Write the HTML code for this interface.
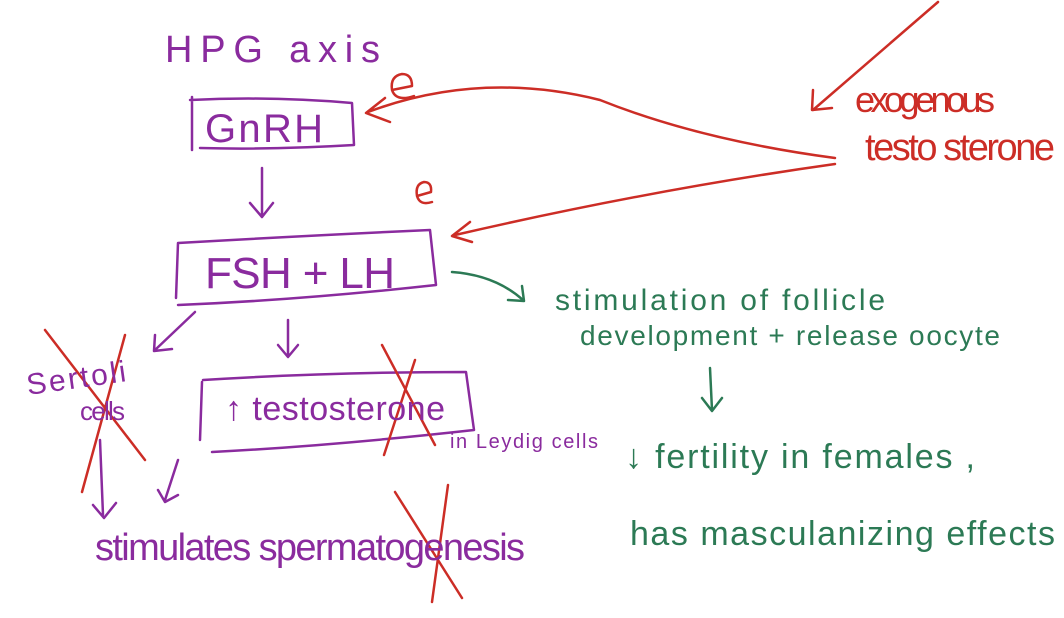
<!DOCTYPE html>
<html><head><meta charset="utf-8"><style>
html,body{margin:0;padding:0;background:#fff;}
svg{display:block}
text{font-family:"Liberation Sans",sans-serif;}
.p{fill:#8a2b9e}.r{fill:#cc2d26}.g{fill:#2c7a55}
</style></head><body>
<svg width="1064" height="618" viewBox="0 0 1064 618" xmlns="http://www.w3.org/2000/svg">
<g fill="none" stroke-linecap="round" stroke-linejoin="round" stroke-width="2.5">
<g stroke="#8a2b9e">
<path d="M192 97 L192 150 M190 100 Q270 96 352 103 L354 145 Q270 150 200 148"/>
<path d="M262 168 L262 215 M250 203 L262 217 L273 203"/>
<path d="M178 243 L176 298 M178 243 Q300 236 430 230 L436 285 Q300 300 178 305"/>
<path d="M195 312 L155 350 M155 335 L154 351 L172 349"/>
<path d="M288 320 L288 355 M278 345 L288 357 L298 345"/>
<path d="M202 382 L200 440 M203 380 Q330 372 466 372 L474 430 Q330 446 212 452"/>
<path d="M100 440 L103 515 M93 505 L104 518 L116 503"/>
<path d="M178 460 L165 500 M158 490 L165 502 L178 495"/>
</g>
<g stroke="#cc2d26">
<path d="M835 158 Q700 140 600 100 Q480 70 368 112 M385 98 L366 113 L390 122"/>
<path d="M835 164 Q650 190 455 235 M470 222 L452 236 L472 242"/>
<path d="M938 2 L813 110 M813 90 L812 110 L832 108"/>
<path d="M392 90 L412 86 Q412 74 402 74 Q390 76 392 90 Q396 102 414 96"/>
<path d="M417 196 L431 192 Q432 182 424 182 Q415 184 417 196 Q420 206 432 202"/>
<path d="M45 330 L145 460 M125 335 L82 492"/>
<path d="M382 345 L435 445 M415 360 L384 455"/>
<path d="M395 492 L462 598 M448 485 L432 602"/>
</g>
<g stroke="#2c7a55">
<path d="M452 272 Q495 275 523 300 M508 300 L524 301 L522 286"/>
<path d="M710 368 L712 410 M702 398 L712 411 L722 398"/>
</g>
</g>
<text x="165" y="62" class="p" font-size="38" textLength="215">HPG  axis</text>
<text x="205" y="142" class="p" font-size="40" textLength="118">GnRH</text>
<text x="205" y="288" class="p" font-size="44" textLength="190">FSH + LH</text>
<text x="28" y="395" class="p" font-size="30" textLength="100" transform="rotate(-8 28 395)">Sertoli</text>
<text x="80" y="420" class="p" font-size="26" textLength="45">cells</text>
<text x="225" y="420" class="p" font-size="34" textLength="220">↑ testosterone</text>
<text x="450" y="448" class="p" font-size="20" textLength="148">in Leydig cells</text>
<text x="95" y="560" class="p" font-size="38" textLength="430">stimulates  spermatogenesis</text>
<text x="855" y="112" class="r" font-size="36" textLength="140">exogenous</text>
<text x="865" y="160" class="r" font-size="38" textLength="190">testo sterone</text>
<text x="555" y="310" class="g" font-size="30" textLength="330">stimulation of follicle</text>
<text x="580" y="345" class="g" font-size="28" textLength="420">development  + release oocyte</text>
<text x="625" y="468" class="g" font-size="34" textLength="350">↓ fertility in females ,</text>
<text x="630" y="545" class="g" font-size="34" textLength="425">has  masculanizing effects</text>
</svg>
</body></html>
